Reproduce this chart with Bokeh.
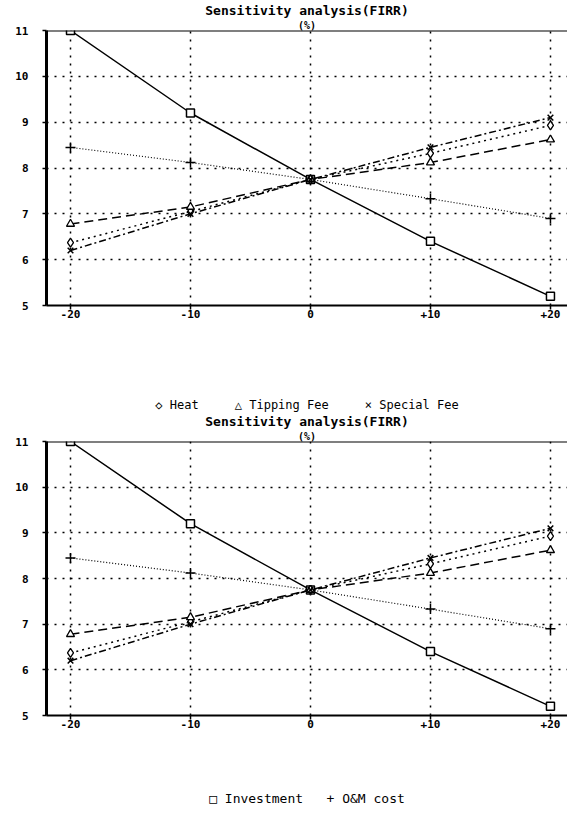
from bokeh.plotting import figure
from bokeh.layouts import column
from bokeh.models import Range1d, FixedTicker, Span, Title
from bokeh.embed import file_html
from bokeh.resources import INLINE

# ---- data (FIRR %) ----
changes = [-20, -10, 0, 10, 20]
x_tick_labels = ["-20", "-10", "0", "+10", "+20"]
y_ticks = [5, 6, 7, 8, 9, 10, 11]
investment = [11.0, 9.2, 7.75, 6.4, 5.2]
om_cost = [8.45, 8.12, 7.75, 7.33, 6.9]
heat = [6.37, 7.05, 7.75, 8.32, 8.93]
tipping_fee = [6.78, 7.15, 7.75, 8.12, 8.62]
special_fee = [6.2, 7.0, 7.75, 8.45, 9.1]

title_text = "Sensitivity analysis(FIRR)"
unit_text = "(%)"
NB = "\u00a0"
legend_top = "\u25c7 Heat" + NB * 5 + "\u25b3 Tipping Fee" + NB * 5 + "\u00d7 Special Fee"
legend_bottom = "\u25a1 Investment" + NB * 3 + "+ O&M cost"

FONT = "DejaVu Sans Mono"


def make_chart(height, top_border, bottom_border, top_legend=None, bottom_legend=None):
    p = figure(width=567, height=height, output_backend="svg", toolbar_location=None,
               x_range=Range1d(-22.0, 21.42), y_range=Range1d(5, 11),
               min_border_left=46, min_border_right=0, min_border_top=top_border,
               min_border_bottom=bottom_border)
    p.outline_line_color = None
    p.background_fill_color = "white"
    p.border_fill_color = "white"

    # titles (first added 'above' sits closest to the frame)
    p.add_layout(Title(text=unit_text, align="center", text_font=FONT,
                       text_font_size="10px", text_font_style="bold",
                       text_color="black", standoff=0), "above")
    p.add_layout(Title(text=title_text, align="center", text_font=FONT,
                       text_font_size="13px", text_font_style="bold",
                       text_color="black", standoff=0), "above")
    if top_legend:
        p.add_layout(Title(text=top_legend, align="center", text_font=FONT,
                           text_font_size="12px", text_font_style="normal",
                           text_color="black", standoff=0), "above")

    # grid
    p.xgrid.ticker = FixedTicker(ticks=changes)
    p.ygrid.ticker = FixedTicker(ticks=[6, 7, 8, 9, 10])
    for g in (p.xgrid, p.ygrid):
        g.grid_line_color = "black"
        g.grid_line_dash = "2 6"
        g.grid_line_width = 1.5

    # axes
    p.xaxis.ticker = FixedTicker(ticks=changes)
    p.xaxis.major_label_overrides = {c: l for c, l in zip(changes, x_tick_labels)}
    p.yaxis.ticker = FixedTicker(ticks=y_ticks)
    for ax in (p.xaxis, p.yaxis):
        ax.axis_line_color = "black"
        ax.major_tick_in = 0
        ax.major_tick_out = 4
        ax.major_tick_line_color = "black"
        ax.major_tick_line_width = 1.5
        ax.minor_tick_line_color = None
        ax.major_label_text_font = FONT
        ax.major_label_text_font_style = "bold"
        ax.major_label_text_font_size = "11px"
        ax.major_label_text_color = "black"
    p.yaxis.axis_line_width = 3
    p.xaxis.axis_line_width = 2
    p.yaxis.major_label_standoff = 14
    p.xaxis.major_label_standoff = 0
    if bottom_legend:
        p.xaxis.axis_label = bottom_legend
        p.xaxis.axis_label_text_font = FONT
        p.xaxis.axis_label_text_font_size = "13px"
        p.xaxis.axis_label_text_font_style = "normal"
        p.xaxis.axis_label_text_color = "black"
        p.xaxis.axis_label_standoff = 60

    # top frame line
    p.add_layout(Span(location=11, dimension="width", line_color="black", line_width=2))

    # series
    p.line(changes, investment, line_color="black", line_width=1.5)
    p.scatter(changes, investment, marker="square", size=8, fill_color="white",
              line_color="black", line_width=1.5)
    p.line(changes, om_cost, line_color="black", line_width=1.2, line_dash="1 2")
    p.scatter(changes, om_cost, marker="cross", size=10, line_color="black", line_width=1.5)
    p.line(changes, heat, line_color="black", line_width=1.5, line_dash="2 4")
    p.scatter(changes, heat, marker="diamond", size=9, fill_color="white",
              line_color="black", line_width=1.3)
    p.line(changes, tipping_fee, line_color="black", line_width=1.5, line_dash="9 5")
    p.scatter(changes, tipping_fee, marker="triangle", size=8, fill_color="white",
              line_color="black", line_width=1.3)
    p.line(changes, special_fee, line_color="black", line_width=1.5, line_dash="7 3 2 3")
    p.scatter(changes, special_fee, marker="x", size=8, line_color="black", line_width=1.5)
    return p


p1 = make_chart(395, 30, 90)
p2 = make_chart(427, 45, 107, top_legend=legend_top, bottom_legend=legend_bottom)

layout = column(p1, p2, spacing=0)
open("out.html", "w").write(file_html(layout, INLINE))
